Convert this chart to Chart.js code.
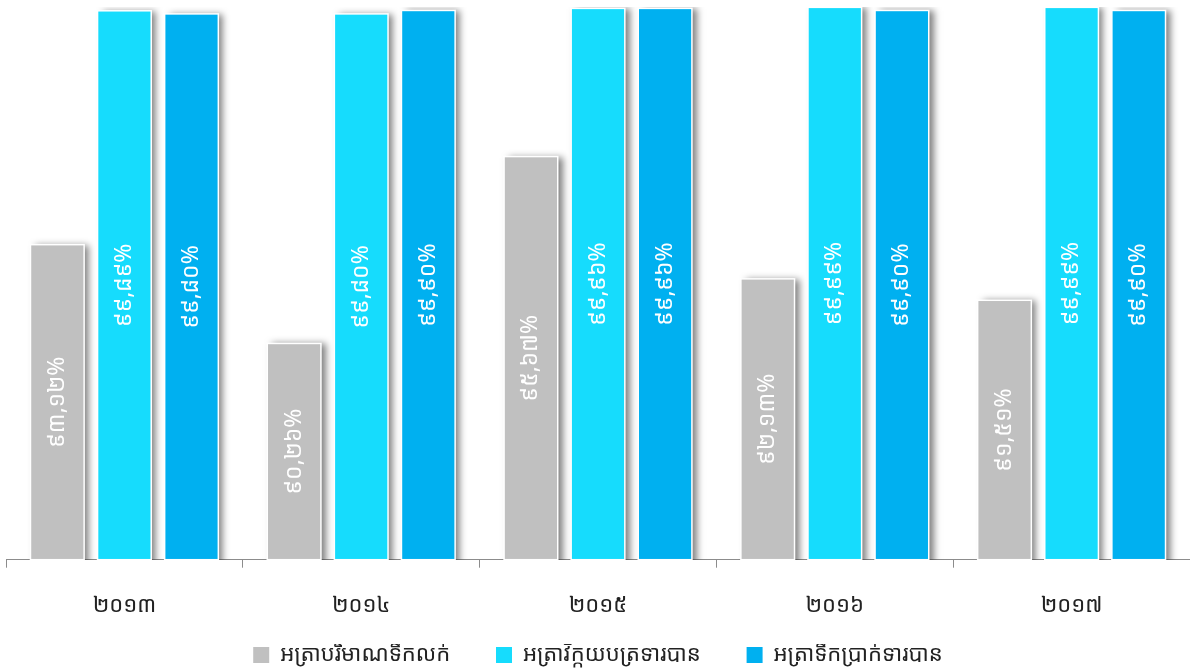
<!DOCTYPE html>
<html>
<head>
<meta charset="utf-8">
<script src="https://cdn.jsdelivr.net/npm/chart.js@4.4.1/dist/chart.umd.min.js"></script>
<style>
  html, body { margin: 0; padding: 0; background: #fff; }
  #wrap { width: 1190px; height: 671px; }
</style>
</head>
<body>
<div id="wrap"><canvas id="chart"></canvas></div>
<script>
// ឆ្នាំ
const years = ["២០១៣", "២០១៤", "២០១៥", "២០១៦", "២០១៧"];

// ឈ្មោះស៊េរី
const seriesNames = ["អត្រាបរិមាណទឹកលក់", "អត្រាវិក្កយបត្រទារបាន", "អត្រាទឹកប្រាក់ទារបាន"];

// តម្លៃ (%)
const salesVolume = [93.12, 90.26, 95.67, 92.13, 91.51];
const invoicesCollected = [99.89, 99.80, 99.96, 99.99, 99.99];
const moneyCollected = [99.80, 99.90, 99.96, 99.90, 99.90];

const colors = ["#c0c0c0", "#16dcfd", "#00b0f0"];

const khmerDigits = ["០", "១", "២", "៣", "៤", "៥", "៦", "៧", "៨", "៩"];
function toKhmer(v) {
  return v.toFixed(2).replace(".", ",").replace(/[0-9]/g, (d) => khmerDigits[Number(d)]) + "%";
}

const FONT = "'Noto Sans Khmer', 'Khmer OS', sans-serif";

// ស្រមោលរបារ
const shadowPlugin = {
  id: "barShadow",
  beforeDatasetDraw(chart) {
    const ctx = chart.ctx;
    ctx.save();
    ctx.shadowColor = "rgba(0,0,0,0.5)";
    ctx.shadowBlur = 7;
    ctx.shadowOffsetX = 5;
    ctx.shadowOffsetY = 0;
  },
  afterDatasetDraw(chart) {
    chart.ctx.restore();
  },
};

// គែមស និងស្លាកតម្លៃបញ្ឈរ
const labelPlugin = {
  id: "barLabels",
  afterDatasetsDraw(chart) {
    const ctx = chart.ctx;
    const yScale = chart.scales.y;
    const base = yScale.getPixelForValue(yScale.min);
    chart.data.datasets.forEach((ds, i) => {
      const meta = chart.getDatasetMeta(i);
      meta.data.forEach((bar, j) => {
        const p = bar.getProps(["x", "width"], true);
        const top = yScale.getPixelForValue(ds.data[j]);
        ctx.save();
        ctx.strokeStyle = "#ffffff";
        ctx.lineWidth = 1.5;
        ctx.strokeRect(p.x - p.width / 2, top, p.width, base - top);
        ctx.translate(p.x, (top + base) / 2);
        ctx.rotate(-Math.PI / 2);
        ctx.fillStyle = "#ffffff";
        ctx.font = "23px " + FONT;
        ctx.textAlign = "center";
        ctx.textBaseline = "middle";
        ctx.fillText(toKhmer(ds.data[j]), 0, 0);
        ctx.restore();
      });
    });
  },
};

const datasets = [salesVolume, invoicesCollected, moneyCollected].map((data, i) => ({
  label: seriesNames[i],
  data: data,
  backgroundColor: colors[i],
  borderWidth: 0,
  categoryPercentage: 0.85,
  barPercentage: 0.8,
}));

new Chart(document.getElementById("chart"), {
  type: "bar",
  data: { labels: years, datasets: datasets },
  plugins: [shadowPlugin, labelPlugin],
  options: {
    responsive: true,
    maintainAspectRatio: false,
    animation: false,
    layout: { padding: { left: 6, right: 0, top: 7, bottom: -5 } },
    scales: {
      x: {
        offset: true,
        grid: {
          offset: true,
          drawOnChartArea: false,
          tickLength: 8,
          color: "#8c8c8c",
        },
        border: { color: "#8c8c8c", width: 1 },
        ticks: {
          color: "#222",
          padding: 20,
          font: { size: 22, family: FONT, lineHeight: 1.65 },
        },
      },
      y: {
        display: false,
        min: 84,
        max: 100,
      },
    },
    plugins: {
      tooltip: { enabled: false },
      legend: {
        position: "bottom",
        labels: {
          boxWidth: 16,
          boxHeight: 16,
          padding: 0,
          color: "#222",
          font: { size: 22, family: FONT },
          generateLabels(chart) {
            const items = Chart.defaults.plugins.legend.labels.generateLabels(chart);
            items.forEach((it, k) => {
              if (k < items.length - 1) it.text = it.text + "        ";
              it.lineWidth = 0;
            });
            return items;
          },
        },
      },
    },
  },
});
</script>
</body>
</html>
